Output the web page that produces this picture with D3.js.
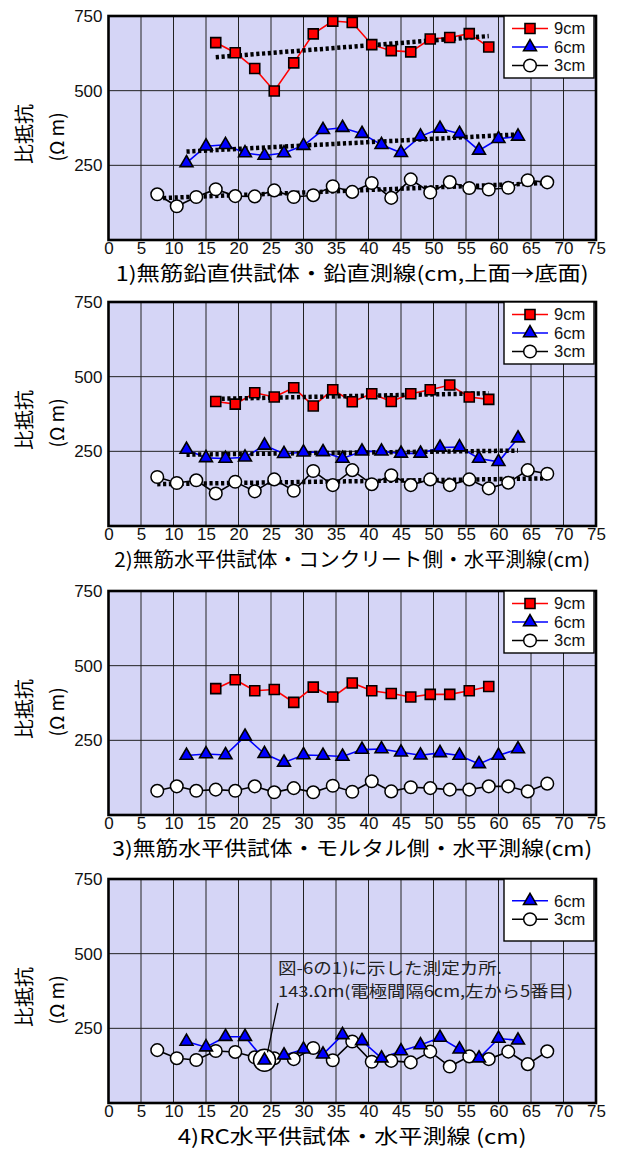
<!DOCTYPE html>
<html>
<head>
<meta charset="utf-8">
<script src="https://cdn.jsdelivr.net/npm/d3@7"></script>
<style>
  body { margin: 0; background: #fff; }
</style>
</head>
<body>
<svg id="chart" width="618" height="1149"></svg>
<script>
// electrode midpoints (cm) for each spacing
const pos9cm = [16.5, 19.5, 22.5, 25.5, 28.5, 31.5, 34.5, 37.5, 40.5, 43.5, 46.5, 49.5, 52.5, 55.5, 58.5];
const pos6cm = [12, 15, 18, 21, 24, 27, 30, 33, 36, 39, 42, 45, 48, 51, 54, 57, 60, 63];
const pos3cm = [7.5, 10.5, 13.5, 16.5, 19.5, 22.5, 25.5, 28.5, 31.5, 34.5, 37.5, 40.5, 43.5, 46.5, 49.5, 52.5, 55.5, 58.5, 61.5, 64.5, 67.5];

// 1) vertical line
const p1_9cm = [661, 627, 574, 499, 593, 690, 733, 728, 654, 634, 630, 673, 678, 691, 646];
const p1_6cm = [258, 314, 319, 291, 283, 291, 316, 369, 376, 356, 319, 292, 347, 373, 356, 300, 339, 347];
const p1_3cm = [153, 113, 144, 170, 147, 146, 166, 144, 150, 180, 161, 191, 141, 203, 159, 194, 174, 169, 175, 200, 193];
// 2) concrete side
const p2_9cm = [417, 408, 446, 432, 463, 402, 456, 416, 443, 417, 443, 456, 472, 432, 424];
const p2_6cm = [256, 228, 226, 230, 270, 242, 247, 248, 226, 250, 250, 243, 243, 263, 264, 226, 215, 294];
const p2_3cm = [164, 144, 153, 109, 148, 116, 156, 118, 184, 137, 187, 140, 170, 137, 156, 137, 156, 126, 145, 187, 175];
// 3) mortar side
const p3_9cm = [423, 453, 416, 420, 377, 428, 395, 442, 416, 407, 395, 404, 404, 416, 430];
const p3_6cm = [199, 204, 201, 263, 205, 176, 201, 199, 196, 219, 221, 210, 200, 208, 199, 171, 199, 221];
const p3_3cm = [81, 96, 81, 85, 81, 96, 76, 90, 76, 98, 78, 113, 79, 93, 90, 85, 85, 96, 96, 79, 105];
// 4) RC specimen
const p4_6cm = [206, 187, 222, 222, 143, 160, 180, 163, 228, 208, 150, 174, 194, 219, 180, 150, 216, 210];
const p4_3cm = [177, 150, 144, 174, 171, 153, 150, 147, 184, 143, 206, 138, 141, 136, 172, 122, 156, 147, 172, 130, 173];

const xTicks = [0, 5, 10, 15, 20, 25, 30, 35, 40, 45, 50, 55, 60, 65, 70, 75];
const yTicks = [250, 500, 750];
const titles = [
  "1)無筋鉛直供試体・鉛直測線(cm,上面→底面)",
  "2)無筋水平供試体・コンクリート側・水平測線(cm)",
  "3)無筋水平供試体・モルタル側・水平測線(cm)",
  "4)RC水平供試体・水平測線 (cm)"
];
const titleWidths = [473, 476, 480, 349];
const noteLines = ["図-6の1)に示した測定カ所.", "143.Ωm(電極間隔6cm,左から5番目)"];
const notePoint = [24, 143];

const styles = {
  "9cm": { color: "#ff0000", symbol: d3.symbolSquare, size: 100 },
  "6cm": { color: "#0000ff", symbol: d3.symbolTriangle, size: 72 },
  "3cm": { color: "#000000", symbol: null, size: 0 }
};

const panels = [
  { series: [["9cm", pos9cm, p1_9cm], ["6cm", pos6cm, p1_6cm], ["3cm", pos3cm, p1_3cm]], trend: true },
  { series: [["9cm", pos9cm, p2_9cm], ["6cm", pos6cm, p2_6cm], ["3cm", pos3cm, p2_3cm]], trend: true },
  { series: [["9cm", pos9cm, p3_9cm], ["6cm", pos6cm, p3_6cm], ["3cm", pos3cm, p3_3cm]], trend: false },
  { series: [["6cm", pos6cm, p4_6cm], ["3cm", pos3cm, p4_3cm]], trend: false, note: true }
];

const tops = [16, 302, 591, 879],
  plotH = 224,
  left = 108.5,
  right = 596,
  numFont = "'Liberation Sans', Arial, sans-serif",
  jpFont = "'Noto Sans CJK JP', 'Noto Sans', sans-serif";

const svg = d3.select("#chart");
const x = d3.scaleLinear().domain([0, 75]).range([left, right]);

// least squares fit, drawn over the data range
function fit(xs, ys) {
  const mx = d3.mean(xs), my = d3.mean(ys);
  let num = 0, den = 0;
  xs.forEach((v, i) => { num += (v - mx) * (ys[i] - my); den += (v - mx) * (v - mx); });
  const b = num / den, a = my - b * mx;
  const x0 = d3.min(xs), x1 = d3.max(xs);
  return [[x0, a + b * x0], [x1, a + b * x1]];
}

function drawMarker(sel, key) {
  const st = styles[key];
  if (st.symbol) {
    sel.append("path")
      .attr("d", d3.symbol().type(st.symbol).size(st.size)())
      .attr("fill", st.color)
      .attr("stroke", "#000")
      .attr("stroke-width", 1.6);
  } else {
    sel.append("circle")
      .attr("r", 6.3)
      .attr("fill", "#fff")
      .attr("stroke", "#000")
      .attr("stroke-width", 1.5);
  }
}

panels.forEach((p, k) => {
  const top = tops[k], bottom = top + plotH;
  const y = d3.scaleLinear().domain([0, 750]).range([bottom, top]);
  const g = svg.append("g");

  g.append("rect")
    .attr("x", left).attr("y", top)
    .attr("width", right - left).attr("height", plotH)
    .attr("fill", "#d5d5f6");

  g.selectAll(".vgrid")
    .data(xTicks.slice(1, -1))
    .enter()
    .append("line")
    .attr("x1", d => x(d)).attr("x2", d => x(d))
    .attr("y1", top).attr("y2", bottom)
    .attr("stroke", "#222").attr("stroke-width", 1);

  g.selectAll(".hgrid")
    .data(yTicks.slice(0, -1))
    .enter()
    .append("line")
    .attr("x1", left).attr("x2", right)
    .attr("y1", d => y(d)).attr("y2", d => y(d))
    .attr("stroke", "#222").attr("stroke-width", 1);

  const line = d3.line().x(d => x(d[0])).y(d => y(d[1]));

  p.series.forEach(([key, xs, ys]) => {
    g.append("path")
      .datum(xs.map((v, i) => [v, ys[i]]))
      .attr("d", line)
      .attr("fill", "none")
      .attr("stroke", styles[key].color)
      .attr("stroke-width", 1.6);
  });

  if (p.trend) {
    p.series.forEach(([key, xs, ys]) => {
      g.append("path")
        .datum(fit(xs, ys))
        .attr("d", line)
        .attr("fill", "none")
        .attr("stroke", "#000")
        .attr("stroke-width", 4.5)
        .attr("stroke-dasharray", "3.2,2.6");
    });
  }

  // annotation circle goes under the 6cm markers
  p.series.slice().reverse().forEach(([key, xs, ys]) => {
    if (p.note && key === "6cm") {
      g.append("circle")
        .attr("cx", x(notePoint[0])).attr("cy", y(notePoint[1]))
        .attr("r", 11)
        .attr("fill", "#fff").attr("stroke", "#000").attr("stroke-width", 1.5);
    }
    const m = g.selectAll(".m" + key)
      .data(xs.map((v, i) => [v, ys[i]]))
      .enter()
      .append("g")
      .attr("transform", d => `translate(${x(d[0])},${y(d[1])})`);
    drawMarker(m, key);
  });

  g.append("rect")
    .attr("x", left).attr("y", top)
    .attr("width", right - left).attr("height", plotH)
    .attr("fill", "none").attr("stroke", "#000").attr("stroke-width", 2.6);

  // legend
  const legW = 90, legH = 62, legX = 504, rowGap = 18.5;
  const leg = g.append("g").attr("transform", `translate(${legX},${top})`);
  leg.append("rect")
    .attr("width", legW).attr("height", legH)
    .attr("fill", "#fff").attr("stroke", "#000").attr("stroke-width", 1.4);
  const n = p.series.length, start = (legH - (n - 1) * rowGap) / 2;
  p.series.forEach(([key], i) => {
    const row = leg.append("g").attr("transform", `translate(0,${start + i * rowGap})`);
    row.append("line")
      .attr("x1", 8).attr("x2", 44)
      .attr("stroke", styles[key].color).attr("stroke-width", 1.6);
    drawMarker(row.append("g").attr("transform", "translate(26,0)"), key);
    row.append("text")
      .attr("x", 50).attr("dy", "0.35em")
      .attr("font-family", numFont).attr("font-size", 16.5)
      .attr("fill", "#111")
      .text(key);
  });

  // axes
  const xa = g.append("g")
    .attr("transform", `translate(0,${bottom})`)
    .call(d3.axisBottom(x).tickValues(xTicks).tickSize(0).tickPadding(2));
  xa.select(".domain").remove();
  xa.selectAll("text").attr("font-family", numFont).attr("font-size", 17).attr("fill", "#111");

  const ya = g.append("g")
    .attr("transform", `translate(${left},0)`)
    .call(d3.axisLeft(y).tickValues(yTicks).tickSize(0).tickPadding(6));
  ya.select(".domain").remove();
  ya.selectAll("text").attr("font-family", numFont).attr("font-size", 17).attr("fill", "#111");

  const cy = (top + bottom) / 2 + 6;
  g.append("text")
    .attr("transform", `translate(25,${cy}) rotate(-90)`)
    .attr("text-anchor", "middle").attr("dy", "0.35em")
    .attr("font-family", jpFont).attr("font-size", 20)
    .text("比抵抗");
  g.append("text")
    .attr("transform", `translate(57,${cy + 3}) rotate(-90)`)
    .attr("text-anchor", "middle").attr("dy", "0.35em")
    .attr("font-family", jpFont).attr("font-size", 19)
    .text("(Ω m)");

  g.append("text")
    .attr("x", (left + right) / 2).attr("y", bottom + 34)
    .attr("text-anchor", "middle").attr("dy", "0.35em")
    .attr("font-family", jpFont).attr("font-size", 20)
    .attr("textLength", titleWidths[k]).attr("lengthAdjust", "spacingAndGlyphs")
    .text(titles[k]);

  if (p.note) {
    const tx = 278;
    g.append("line")
      .attr("x1", tx).attr("y1", 1003)
      .attr("x2", x(notePoint[0]) + 3).attr("y2", y(notePoint[1]) - 8)
      .attr("stroke", "#000").attr("stroke-width", 1.3);
    [[968.5, 224], [991.5, 295]].forEach(([ty, w], i) => {
      g.append("text")
        .attr("x", tx).attr("y", ty).attr("dy", "0.35em")
        .attr("font-family", jpFont).attr("font-size", 15.5)
        .attr("fill", "#222")
        .attr("textLength", w).attr("lengthAdjust", "spacingAndGlyphs")
        .text(noteLines[i]);
    });
  }
});
</script>
</body>
</html>
